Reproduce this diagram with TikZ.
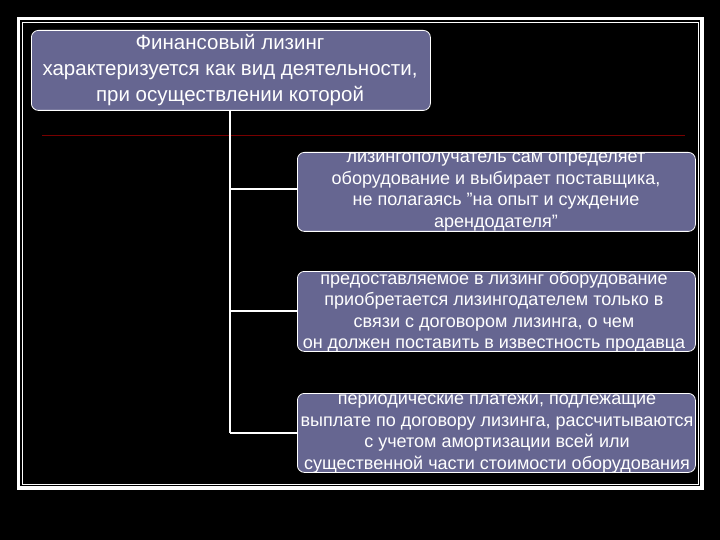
\documentclass[tikz,border=0pt]{standalone}
\usepackage{fontspec}
\setmainfont{Liberation Sans}
\definecolor{boxfill}{RGB}{102,102,145}
\definecolor{darkred}{RGB}{120,0,0}
\begin{document}
\begin{tikzpicture}[x=1pt,y=-1pt,
  bx/.style={draw=white,line width=0.8pt,fill=boxfill,rounded corners=7pt,inner sep=0pt,anchor=north west},
  tx/.style={text=white,font=\fontsize{18}{21.5}\selectfont,align=center},
  ln/.style={draw=white,line width=1.2pt}]
\fill[black] (0,0) rectangle (720,540);
\useasboundingbox (0,0) rectangle (720,540);
\draw[white,line width=3.5pt] (18.5,18.5) rectangle (702,488);
\draw[white,line width=0.8pt] (22.5,22.5) rectangle (698,484);
\draw[darkred,line width=0.8pt] (42,135) -- (685,135);
\node[bx,minimum width=399pt,minimum height=80pt] (top) at (31,30) {};
\node[tx,font=\fontsize{20.5}{26}\selectfont] (toptext) at (230,70) {Финансовый лизинг\\характеризуется как вид деятельности,\\при осуществлении которой};
\node[bx,minimum width=398pt,minimum height=79pt] (b1) at (297,152) {};
\node[tx] (t1) at (496,192) {лизингополучатель сам определяет\\оборудование и выбирает поставщика,\\не полагаясь "на опыт и суждение\\арендодателя"};
\node[bx,minimum width=398pt,minimum height=80pt] (b2) at (297,271) {};
\node[tx] (t2) at (494,312) {предоставляемое в лизинг оборудование\\приобретается лизингодателем только в\\связи с договором лизинга, о чем\\он должен поставить в известность продавца};
\node[bx,minimum width=398pt,minimum height=79pt] (b3) at (297,393) {};
\node[tx] (t3) at (497,434) {периодические платежи, подлежащие\\выплате по договору лизинга, рассчитываются\\с учетом амортизации всей или\\существенной части стоимости оборудования};
\coordinate (t) at (230,110);
\coordinate (j) at (230,433);
\coordinate (j1) at (230,189);
\coordinate (j2) at (230,311);
\draw[ln] (t) -- (j);
\draw[ln] (j1) -- (b1.west |- j1);
\draw[ln] (j2) -- (b2.west |- j2);
\draw[ln] (j) -- (b3.west |- j);
\end{tikzpicture}
\end{document}
